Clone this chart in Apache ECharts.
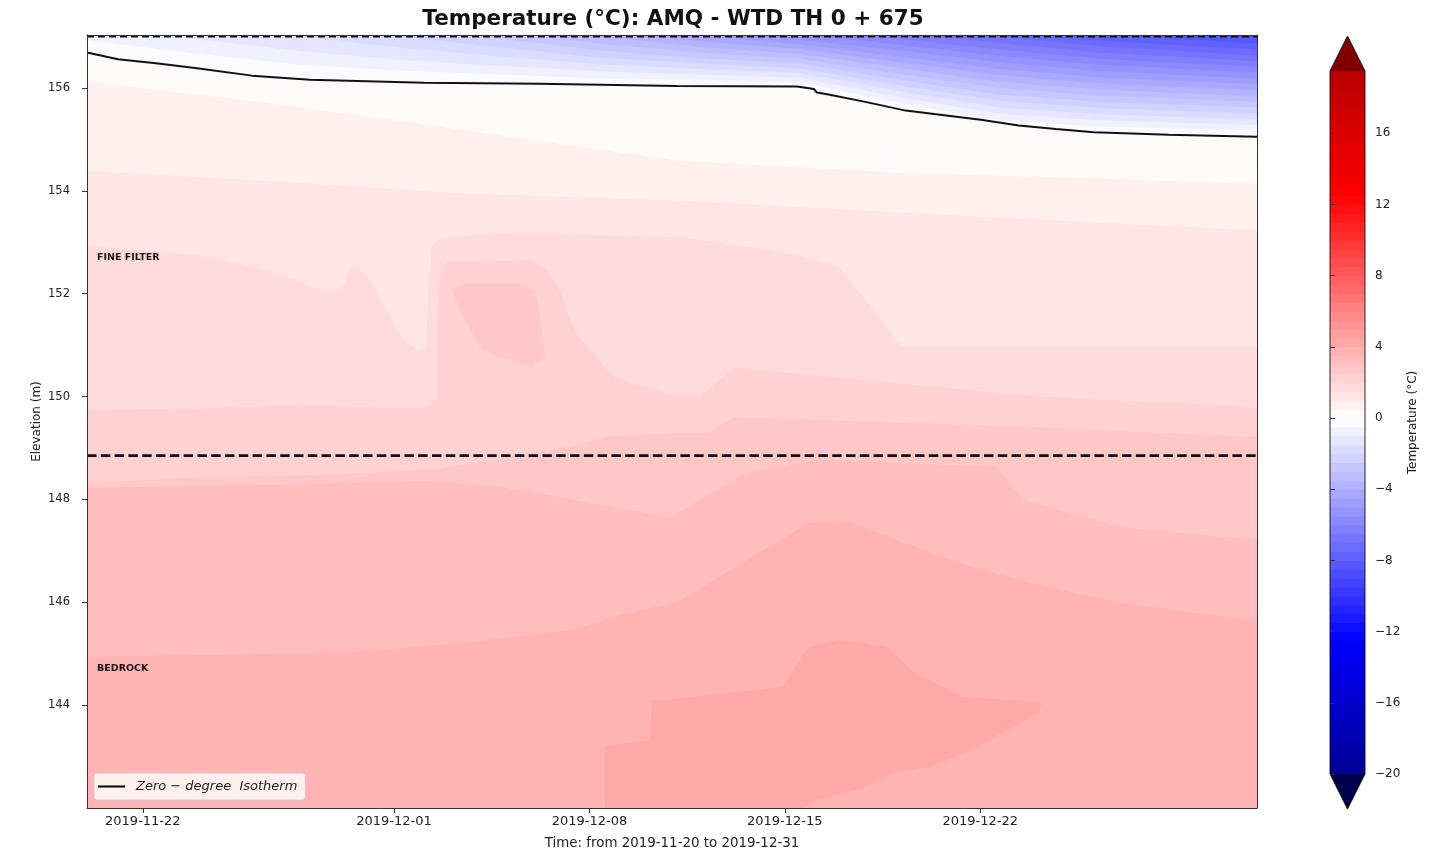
<!DOCTYPE html>
<html>
<head>
<meta charset="utf-8">
<script src="https://cdn.jsdelivr.net/npm/echarts@6/dist/echarts.min.js"></script>
<style>
  html, body { margin: 0; padding: 0; background: #ffffff; }
  #chart { width: 1456px; height: 853px; }
</style>
</head>
<body>
<div id="chart"></div>
<script>
// ---------------------------------------------------------------------------
// Temperature section, AMQ - WTD TH 0 + 675
// Isotherms are given as [days since 2019-11-20 00:00, elevation (m)].
// ---------------------------------------------------------------------------

const TITLE = 'Temperature (°C): AMQ - WTD TH 0 + 675';
const X_NAME = 'Time: from 2019-11-20 to 2019-12-31';
const Y_NAME = 'Elevation (m)';
const CB_NAME = 'Temperature (°C)';
const ZERO_NAME = 'Zero − degree  Isotherm';

const X_TICKS = ['2019-11-22', '2019-12-01', '2019-12-08', '2019-12-15', '2019-12-22'];
const Y_TICKS = [144, 146, 148, 150, 152, 154, 156];
const CB_TICKS = [-20, -16, -12, -8, -4, 0, 4, 8, 12, 16];

const ELEV_MIN = 142.0;
const ELEV_MAX = 157.03;
const GROUND_SURFACE = 157.0;
const FILTER_BEDROCK_CONTACT = 148.85;

const LAYER_LABELS = ['FINE FILTER', 'BEDROCK'];
const LAYER_LABEL_POS = [[0.36, 152.71], [0.36, 144.72]];

// contour levels: -20 .. 19.5 every 0.5 °C, colour norm spans +-25 °C
const LEVEL_MIN = -20, LEVEL_MAX = 19.5, LEVEL_STEP = 0.5;
const NORM_MIN = -25, NORM_MAX = 25;

// 0 °C isotherm
const ISO_0 = [[0,156.69],[1.11,156.56],[2.47,156.48],[3.87,156.39],[5.91,156.24],[7.99,156.16],
  [10.03,156.13],[12.07,156.10],[16.19,156.08],[21.13,156.04],[25.43,156.03],[26.04,155.98],
  [26.15,155.91],[26.61,155.87],[27.97,155.72],[29.33,155.56],[32.02,155.38],[33.38,155.27],
  [34.71,155.20],[36.07,155.14],[38.75,155.09],[41.92,155.05]];

// sub-zero isotherms near the surface
const ISO_N05 = [[0,156.93],[4.05,156.66],[7.63,156.45],[11.21,156.34],[14.79,156.26],[18.37,156.19],
  [21.96,156.15],[25.54,156.11],[29.12,155.71],[32.7,155.37],[36.28,155.25],[41.92,155.17]];
const ISO_N10 = [[3.15,157.0],[4.05,156.94],[7.63,156.72],[11.21,156.55],[14.79,156.43],[18.37,156.32],
  [21.96,156.26],[25.54,156.2],[29.12,155.82],[32.7,155.5],[36.28,155.37],[41.92,155.28]];
const ISO_N15 = [[7.63,157.0],[11.21,156.78],[14.79,156.61],[18.37,156.46],[21.96,156.37],[25.54,156.29],
  [29.12,155.94],[32.7,155.62],[36.28,155.49],[41.92,155.39]];
const ISO_N20 = [[11.21,157.0],[14.79,156.79],[18.37,156.59],[21.96,156.48],[25.54,156.38],[29.12,156.05],
  [32.7,155.75],[36.28,155.61],[41.92,155.5]];
const ISO_N25 = [[14.18,157.0],[14.79,156.96],[18.37,156.73],[21.96,156.58],[25.54,156.48],[29.12,156.16],
  [32.7,155.87],[36.28,155.73],[41.92,155.62]];
const ISO_N30 = [[16.37,157.0],[18.37,156.86],[21.96,156.69],[25.54,156.57],[29.12,156.27],[32.7,156.0],
  [36.28,155.85],[41.92,155.73]];
const ISO_N35 = [[18.37,157.0],[21.96,156.8],[25.54,156.66],[29.12,156.39],[32.7,156.12],[36.28,155.97],
  [41.92,155.84]];
const ISO_N40 = [[20.38,157.0],[21.96,156.91],[25.54,156.76],[29.12,156.5],[32.7,156.25],[36.28,156.09],
  [41.92,155.96]];
const ISO_N45 = [[22.35,157.0],[25.54,156.85],[29.12,156.61],[32.7,156.37],[36.28,156.21],[41.92,156.07]];
const ISO_N50 = [[24.36,157.0],[25.54,156.94],[29.12,156.73],[32.7,156.5],[36.28,156.33],[41.92,156.18]];
const ISO_N55 = [[26.33,157.0],[29.12,156.84],[32.7,156.62],[36.28,156.45],[41.92,156.3]];
const ISO_N60 = [[28.33,157.0],[29.12,156.95],[32.7,156.75],[36.28,156.57],[41.92,156.41]];
const ISO_N65 = [[30.48,157.0],[32.7,156.87],[36.28,156.69],[41.92,156.52]];
const ISO_N70 = [[32.7,157.0],[36.28,156.81],[41.92,156.63]];
const ISO_N75 = [[34.92,157.0],[36.28,156.92],[41.92,156.75]];
const ISO_N80 = [[37.68,157.0],[41.92,156.86]];
const ISO_N85 = [[41.2,157.0],[41.92,156.97]];

// above-zero isotherms through the fine filter and bedrock
const ISO_P05 = [[0,156.12],[5.84,155.75],[11.21,155.36],[16.58,154.94],[21.13,154.59],[29.12,154.35],
  [36.28,154.24],[41.92,154.14]];
const ISO_P10 = [[0,154.39],[8.09,154.14],[13.47,153.95],[21.13,153.81],[29.12,153.58],[36.28,153.38],
  [41.92,153.23]];
const ISO_P15 = [[0,152.94],[4.05,152.74],[6.2,152.49],[7.41,152.26],[8.77,152.0],[9.24,152.16],
  [9.42,152.51],[9.71,152.51],[9.96,152.36],[10.24,152.2],[11.17,151.23],[11.57,151.0],[11.86,150.9],
  [12.14,150.96],[12.25,152.07],[12.36,152.94],[12.64,153.07],[14.83,153.17],[21.13,153.1],
  [24.1,152.88],[26.25,152.65],[26.93,152.51],[27.9,151.87],[28.98,151.1],[29.23,150.96],[41.92,150.96]];
const ISO_P20 = [[0,149.74],[4.05,149.77],[7.63,149.83],[11.93,149.77],[12.54,149.93],[12.57,151.29],
  [12.64,152.36],[12.89,152.61],[15.87,152.65],[16.4,152.49],[16.83,152.2],[17.51,151.23],[18.88,150.37],
  [21.13,149.99],[21.96,149.99],[23.17,150.56],[28.98,150.26],[34.35,149.99],[41.92,149.79]];
const ISO_P25 = [[0,148.32],[4.05,148.43],[8.09,148.47],[12.14,148.57],[14.79,148.77],[16.15,148.92],
  [17.51,149.05],[18.73,149.23],[21.13,149.29],[22.24,149.29],[23.17,149.6],[34.35,149.4],[41.92,149.21]];
const ISO_P30 = [[0,148.22],[4.05,148.26],[8.09,148.30],[12.14,148.36],[14.79,148.24],[16.94,148.04],
  [19.09,147.83],[20.88,147.66],[21.96,147.99],[23.57,148.51],[26.25,148.77],[32.59,148.63],[33.56,147.99],
  [37.03,147.46],[41.92,147.21]];
const ISO_P35 = [[0,144.94],[9.42,145.02],[13.47,145.21],[17.51,145.47],[19.09,145.76],[21.13,145.99],
  [22.89,146.57],[25.86,147.54],[27.36,147.56],[28.98,147.21],[31.66,146.69],[34.35,146.3],[37.03,145.99],
  [41.92,145.62]];

// closed warm pockets
const POCKET_FILTER = [[13.07,152.1],[13.47,152.2],[15.51,152.2],[16.05,152.07],[16.44,150.77],
  [15.9,150.57],[14.15,150.9],[13.47,151.54]];
const POCKET_BEDROCK = [[18.55,142.0],[18.55,143.22],[20.17,143.31],[20.24,144.1],[20.88,144.1],[24.93,144.36],
  [25.86,145.13],[26.93,145.27],[28.69,145.13],[29.66,144.63],[31.38,144.16],[34.2,144.05],[34.1,143.85],
  [33.02,143.52],[31.66,143.13],[30.3,142.81],[28.98,142.69],[27.61,142.36],[26.25,142.16],[25.61,142.0]];

const COLD_SIDE = [[-0.5, ISO_N05], [-1.0, ISO_N10], [-1.5, ISO_N15], [-2.0, ISO_N20], [-2.5, ISO_N25],
  [-3.0, ISO_N30], [-3.5, ISO_N35], [-4.0, ISO_N40], [-4.5, ISO_N45], [-5.0, ISO_N50], [-5.5, ISO_N55],
  [-6.0, ISO_N60], [-6.5, ISO_N65], [-7.0, ISO_N70], [-7.5, ISO_N75], [-8.0, ISO_N80], [-8.5, ISO_N85]];
const WARM_SIDE = [[0.5, ISO_P05], [1.0, ISO_P10], [1.5, ISO_P15], [2.0, ISO_P20], [2.5, ISO_P25],
  [3.0, ISO_P30], [3.5, ISO_P35]];
// [lower bound of the band inside, outline]
const POCKETS = [[2.5, POCKET_FILTER], [4.0, POCKET_BEDROCK]];

// ---------------------------------------------------------------------------
const FONT = '"DejaVu Sans", "Liberation Sans", sans-serif';
const DAY = 86400000;
const START = new Date(2019, 10, 20, 0, 0).getTime();
const END = new Date(2019, 11, 31, 22, 0).getTime();
const at = d => START + d * DAY;
const toXY = pts => pts.map(([d, e]) => [at(d), e]);
const parseDay = s => { const p = s.split('-').map(Number); return new Date(p[0], p[1] - 1, p[2]).getTime(); };
const pad2 = n => (n < 10 ? '0' : '') + n;
const fmtDay = v => { const d = new Date(v); return d.getFullYear() + '-' + pad2(d.getMonth() + 1) + '-' + pad2(d.getDate()); };
const fmtNum = v => (v < 0 ? '\u2212' + Math.abs(v) : String(v));

// matplotlib "seismic" colormap
function seismic(v) {
  let f = (v - NORM_MIN) / (NORM_MAX - NORM_MIN);
  f = Math.max(0, Math.min(1, f));
  let r, g, b;
  if (f < 0.25) { r = 0; g = 0; b = 0.3 + 0.7 * f / 0.25; }
  else if (f < 0.5) { const t = (f - 0.25) / 0.25; r = t; g = t; b = 1; }
  else if (f < 0.75) { const t = (f - 0.5) / 0.25; r = 1; g = 1 - t; b = 1 - t; }
  else { const t = (f - 0.75) / 0.25; r = 1 - 0.5 * t; g = 0; b = 0; }
  return 'rgb(' + Math.round(r * 255) + ',' + Math.round(g * 255) + ',' + Math.round(b * 255) + ')';
}
const bandColor = lo => seismic(lo + LEVEL_STEP / 2);

function bandFill(pts, color, origin, z) {
  return {
    type: 'line', xAxisIndex: 0, yAxisIndex: 0, data: toXY(pts),
    symbol: 'none', showSymbol: false, silent: true, animation: false, z: z, clip: true,
    lineStyle: { width: 0, opacity: 0 },
    areaStyle: { color: color, opacity: 1, origin: origin }
  };
}
function hLine(elev, width, dash, z) {
  return {
    type: 'line', xAxisIndex: 0, yAxisIndex: 0, data: [[START, elev], [END, elev]],
    symbol: 'none', showSymbol: false, silent: true, animation: false, z: z, clip: false,
    lineStyle: { color: '#111', width: width, type: dash }
  };
}

const series = [];
let zi = 1;
// band between 0 and -0.5 above the zero isotherm, then colder bands towards the surface
series.push(bandFill(ISO_0, bandColor(-LEVEL_STEP), 'end', zi++));
COLD_SIDE.forEach(([lvl, pts]) => series.push(bandFill(pts, bandColor(lvl - LEVEL_STEP), 'end', zi++)));
// warmer bands with depth
WARM_SIDE.forEach(([lvl, pts]) => series.push(bandFill(pts, bandColor(lvl), 'start', zi++)));

// closed pockets
series.push({
  type: 'custom', coordinateSystem: 'cartesian2d', xAxisIndex: 0, yAxisIndex: 0,
  silent: true, animation: false, clip: true, z: zi++,
  data: POCKETS.map(p => [at(p[1][0][0]), p[1][0][1]]),
  renderItem: (params, api) => {
    const [lvl, pts] = POCKETS[params.dataIndex];
    return {
      type: 'polygon',
      shape: { points: pts.map(([d, e]) => api.coord([at(d), e])) },
      style: { fill: bandColor(lvl), stroke: null }
    };
  }
});

// layer names
series.push({
  type: 'custom', coordinateSystem: 'cartesian2d', xAxisIndex: 0, yAxisIndex: 0,
  silent: true, animation: false, z: 40,
  data: LAYER_LABEL_POS.map(([d, e]) => [at(d), e]),
  renderItem: (params, api) => {
    const p = api.coord([api.value(0), api.value(1)]);
    return {
      type: 'text', x: p[0], y: p[1],
      style: { text: LAYER_LABELS[params.dataIndex], fill: '#1a1010', font: 'bold 9.5px ' + FONT,
               textAlign: 'left', textVerticalAlign: 'middle' }
    };
  }
});

// ground surface and fine filter / bedrock contact
series.push(hLine(GROUND_SURFACE, 1.8, [7, 4], 46));
series.push(hLine(FILTER_BEDROCK_CONTACT, 2.8, [9.5, 4.3], 46));

// zero-degree isotherm
series.push({
  name: ZERO_NAME, type: 'line', xAxisIndex: 0, yAxisIndex: 0, data: toXY(ISO_0),
  symbol: 'none', showSymbol: false, animation: false, z: 47, color: '#000',
  lineStyle: { color: '#111', width: 2 }
});

// colour bar
const CB_BANDS = [];
for (let v = LEVEL_MIN; v < LEVEL_MAX - 1e-9; v += LEVEL_STEP) CB_BANDS.push([0, +v.toFixed(2)]);
const EXT = 1.97;
series.push({
  type: 'custom', coordinateSystem: 'cartesian2d', xAxisIndex: 2, yAxisIndex: 2,
  silent: true, animation: false, z: 5, data: CB_BANDS,
  renderItem: (params, api) => {
    const lo = api.value(1);
    const a = api.coord([0, lo]);
    const b = api.coord([1, lo + LEVEL_STEP]);
    return {
      type: 'rect',
      shape: { x: a[0], y: b[1] - 0.5, width: b[0] - a[0], height: a[1] - b[1] + 1 },
      style: { fill: bandColor(lo) }
    };
  }
});
series.push({
  type: 'custom', coordinateSystem: 'cartesian2d', xAxisIndex: 2, yAxisIndex: 2,
  silent: true, animation: false, clip: false, z: 6,
  data: [[0, LEVEL_MAX], [0, LEVEL_MIN], [0, 0]],
  renderItem: (params, api) => {
    const c = p => api.coord(p);
    if (params.dataIndex === 0) {
      return { type: 'polygon', shape: { points: [c([0, LEVEL_MAX]), c([1, LEVEL_MAX]), c([0.5, LEVEL_MAX + EXT])] },
               style: { fill: seismic(NORM_MAX) } };
    }
    if (params.dataIndex === 1) {
      return { type: 'polygon', shape: { points: [c([0, LEVEL_MIN]), c([1, LEVEL_MIN]), c([0.5, LEVEL_MIN - EXT])] },
               style: { fill: seismic(NORM_MIN) } };
    }
    return {
      type: 'polygon',
      shape: { points: [c([0, LEVEL_MIN]), c([0.5, LEVEL_MIN - EXT]), c([1, LEVEL_MIN]),
                        c([1, LEVEL_MAX]), c([0.5, LEVEL_MAX + EXT]), c([0, LEVEL_MAX])] },
      style: { fill: null, stroke: '#111', lineWidth: 0.9 }
    };
  }
});

const chart = echarts.init(document.getElementById('chart'), null, { renderer: 'canvas' });
const axisText = { fontFamily: FONT, color: '#222' };
const spine = { show: true, onZero: false, lineStyle: { color: '#333', width: 1 } };

chart.setOption({
  backgroundColor: '#ffffff',
  animation: false,
  textStyle: { fontFamily: FONT },
  title: {
    text: TITLE, left: 668, top: 3, textAlign: 'center',
    textStyle: { fontFamily: FONT, fontWeight: 'bold', fontSize: 21.5, color: '#111' }
  },
  legend: {
    data: [{ name: ZERO_NAME, icon: 'rect' }],
    left: 94, top: 773, orient: 'horizontal',
    itemWidth: 27, itemHeight: 2,
    padding: [7, 8, 7, 4],
    backgroundColor: 'rgba(255,255,255,0.8)', borderColor: '#cccccc', borderWidth: 1, borderRadius: 3,
    textStyle: { fontFamily: FONT, fontStyle: 'italic', fontSize: 13, color: '#222', padding: [0, 0, 0, 6] },
    selectedMode: false, z: 50
  },
  grid: [
    { left: 87, top: 35, width: 1170, height: 773, show: true, backgroundColor: bandColor(0),
      borderWidth: 0, outerBoundsMode: 'none' },
    { left: 1330, top: 71, width: 35, height: 703, show: false, outerBoundsMode: 'none' }
  ],
  xAxis: [
    { type: 'value', gridIndex: 0, min: START, max: END, z: 60, scale: true,
      name: X_NAME, nameLocation: 'middle', nameGap: 29, nameMoveOverlap: false,
      nameTextStyle: { fontFamily: FONT, fontSize: 13.4, color: '#222' },
      axisLine: spine,
      axisTick: { show: true, length: 5, lineStyle: { color: '#333' }, customValues: X_TICKS.map(parseDay) },
      axisLabel: { ...axisText, fontSize: 13, margin: 7, formatter: fmtDay, customValues: X_TICKS.map(parseDay),
                   hideOverlap: false },
      splitLine: { show: false } },
    { type: 'value', gridIndex: 0, position: 'top', min: START, max: END, z: 60, scale: true,
      axisLine: spine, axisTick: { show: false }, axisLabel: { show: false }, splitLine: { show: false } },
    { type: 'value', gridIndex: 1, min: 0, max: 1, show: false }
  ],
  yAxis: [
    { type: 'value', gridIndex: 0, min: ELEV_MIN, max: ELEV_MAX, z: 60,
      name: Y_NAME, nameLocation: 'middle', nameGap: 44, nameMoveOverlap: false,
      nameTextStyle: { fontFamily: FONT, fontSize: 12, color: '#222' },
      axisLine: spine,
      axisTick: { show: true, length: 5, lineStyle: { color: '#333' }, customValues: Y_TICKS },
      axisLabel: { ...axisText, fontSize: 11.5, margin: 17, customValues: Y_TICKS },
      splitLine: { show: false } },
    { type: 'value', gridIndex: 0, position: 'right', min: ELEV_MIN, max: ELEV_MAX, z: 60,
      axisLine: spine, axisTick: { show: false }, axisLabel: { show: false }, splitLine: { show: false } },
    { type: 'value', gridIndex: 1, position: 'right', min: LEVEL_MIN, max: LEVEL_MAX,
      name: CB_NAME, nameLocation: 'middle', nameGap: 42, z: 10, nameMoveOverlap: false,
      nameTextStyle: { fontFamily: FONT, fontSize: 12, color: '#222' },
      axisLine: { show: false },
      axisTick: { show: true, length: 5, lineStyle: { color: '#333' }, customValues: CB_TICKS },
      axisLabel: { ...axisText, fontSize: 12, margin: 10, formatter: fmtNum, customValues: CB_TICKS },
      splitLine: { show: false } }
  ],
  series: series
});
</script>
</body>
</html>
